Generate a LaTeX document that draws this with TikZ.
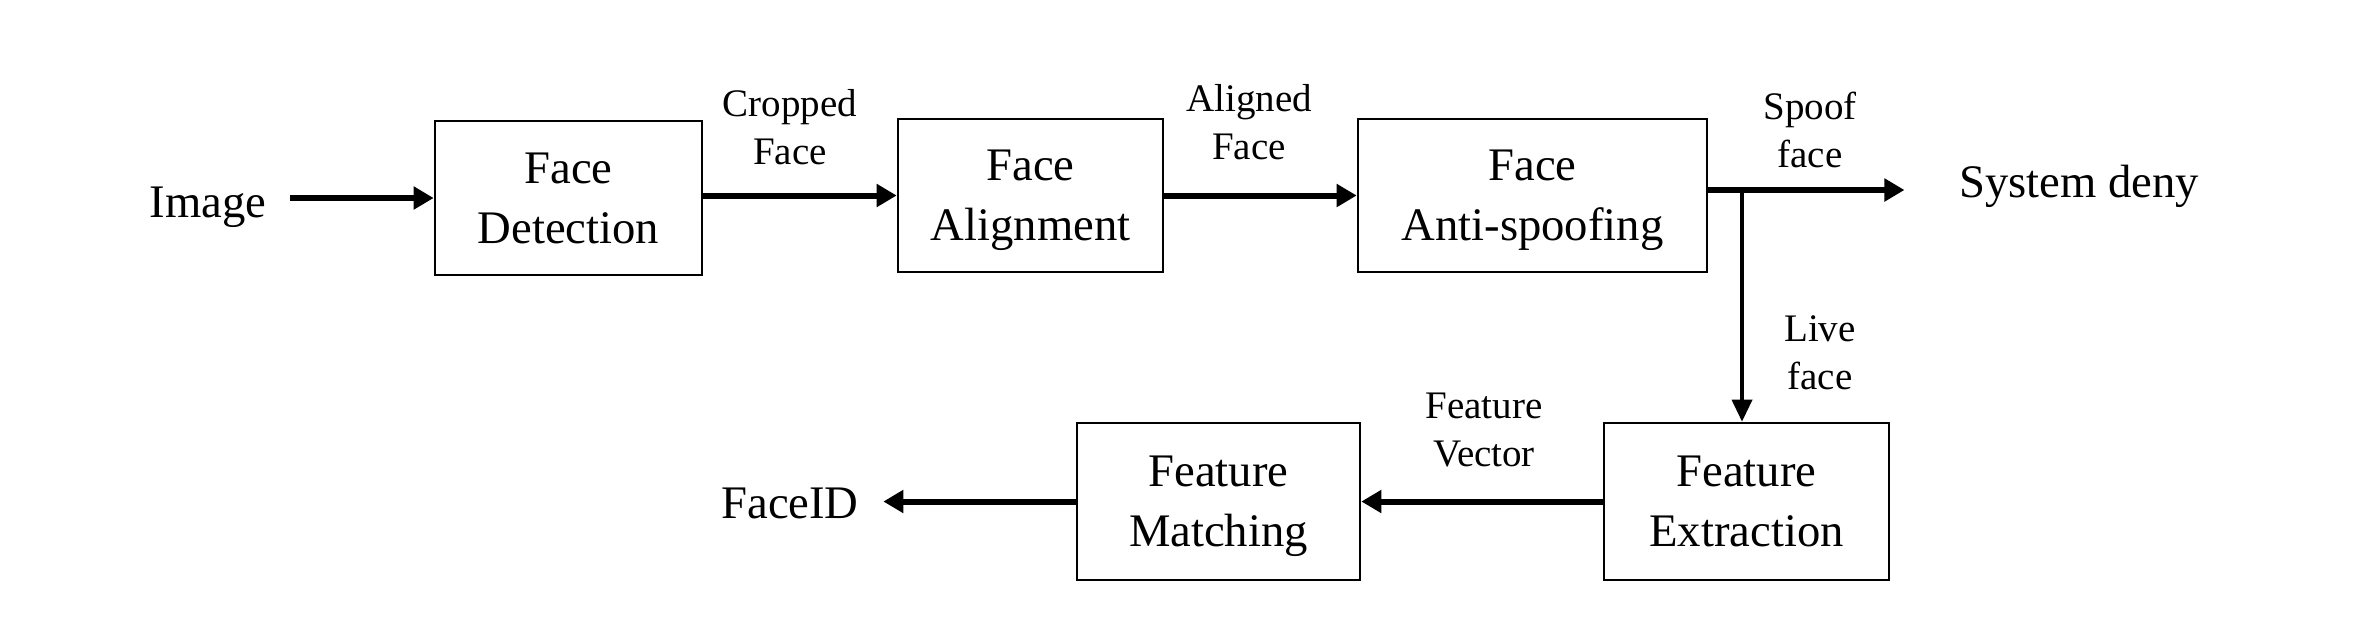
\documentclass[tikz,border=0pt]{standalone}
\usepackage{fontspec}
\setmainfont{Liberation Serif}
\usetikzlibrary{arrows.meta}
\begin{document}
\begin{tikzpicture}[x=0.3pt,y=-0.3pt,
  blk/.style={draw,line width=0.8pt,inner sep=0pt,align=center,text depth=-1.5pt,font=\fontsize{14}{18}\selectfont},
  lbl/.style={inner sep=0pt,align=center,font=\fontsize{11.7}{14.5}\selectfont},
  big/.style={inner ysep=0pt,font=\fontsize{14}{18}\selectfont},
  thickarr/.style={line width=1.8pt,-{Triangle[length=6pt,width=6.6pt]}},
  thinarr/.style={line width=1.1pt,-{Triangle[length=6.6pt,width=6pt]}}]
\fill[white] (0,0) rectangle (2358,628);
\useasboundingbox (0,0) rectangle (2358,628);

% boxes
\node[blk,minimum width=80.1pt,minimum height=46.2pt] (det) at (568.5,198) {Face\\Detection};
\node[blk,minimum width=79.5pt,minimum height=45.9pt] (ali) at (1030.5,195.5) {Face\\Alignment};
\node[blk,minimum width=104.7pt,minimum height=45.9pt] (anti) at (1532.5,195.5) {Face\\Anti-spoofing};
\node[blk,minimum width=85.5pt,minimum height=47.1pt] (ext) at (1746.5,501.5) {Feature\\Extraction};
\node[blk,minimum width=84.9pt,minimum height=47.1pt] (mat) at (1218.5,501.5) {Feature\\Matching};

% end texts
\node[big,inner xsep=6.9pt,anchor=base] (img) at (208,217) {Image};
\node[big,inner xsep=16.2pt,anchor=base] (deny) at (2079,197) {System deny};
\node[big,inner xsep=7.2pt,anchor=base] (fid) at (790,518) {FaceID};
\coordinate (split) at (1742,190);

% connectors
\draw[thickarr] (img.east |- det.west) -- (det.west);
\draw[thickarr] (det.east |- ali.west) -- (ali.west);
\draw[thickarr] (ali.east) -- (anti.west);
\draw[thickarr] (anti.east |- split) -- (deny.west |- split);
\draw[thinarr] (split) -- (ext.north -| split);
\draw[thickarr] (ext.west) -- (mat.east);
\draw[thickarr] (mat.west) -- (fid.east |- mat.west);

% labels
\node[lbl] (lcrop) at (790,127) {Cropped\\Face};
\node[lbl] (lalign) at (1249,122) {Aligned\\Face};
\node[lbl] (lspoof) at (1810,130) {Spoof\\face};
\node[lbl] (llive) at (1820,353) {Live\\face};
\node[lbl] (lvec) at (1484,430) {Feature\\Vector};
\end{tikzpicture}
\end{document}
